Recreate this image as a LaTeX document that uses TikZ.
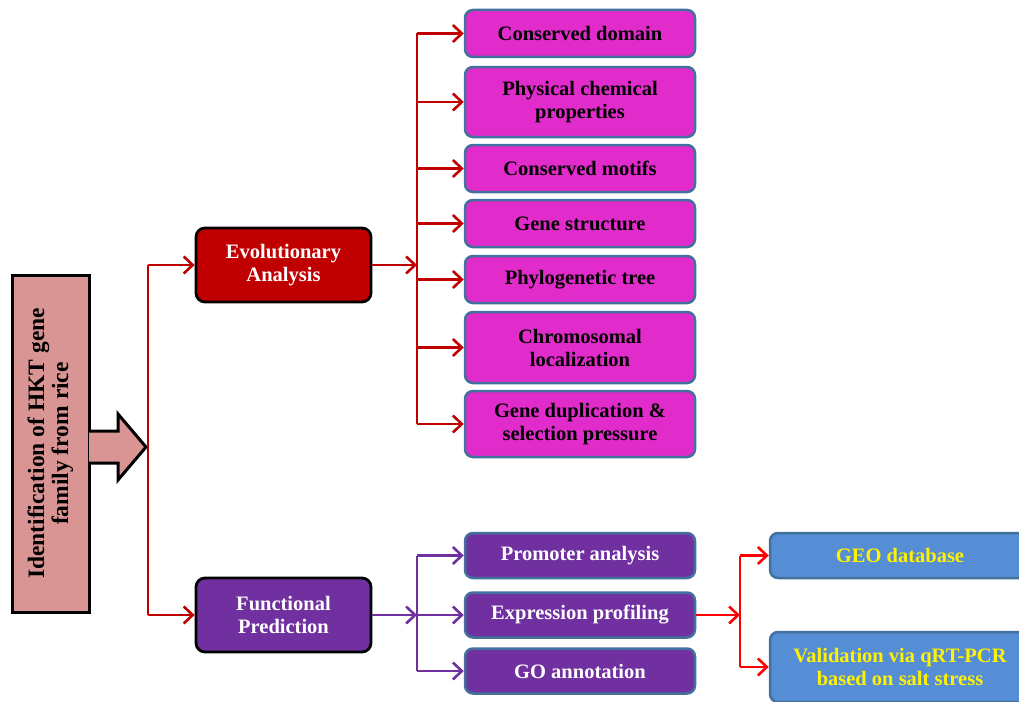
\documentclass[tikz,border=0pt]{standalone}
\usepackage{fontspec}
\setmainfont{Liberation Serif}
\usetikzlibrary{positioning,arrows.meta}
\definecolor{evored}{HTML}{C00000}
\definecolor{funcpurple}{HTML}{7030A0}
\definecolor{taskmagenta}{HTML}{E22BCB}
\definecolor{taskblue}{HTML}{558ED5}
\definecolor{rimblue}{HTML}{41719C}
\definecolor{rootpink}{HTML}{D99594}
\definecolor{brightred}{HTML}{FF0000}

\begin{document}
\begin{tikzpicture}[x=1pt, y=-1pt,
  every node/.style={font=\bfseries\fontsize{20.5}{23}\selectfont, align=center, inner sep=0pt},
  branch/.style={rectangle, rounded corners=9pt, line width=2.8pt, draw=black, minimum width=175pt, minimum height=74pt, text=white},
  task/.style={rectangle, rounded corners=8pt, line width=2.5pt, draw=rimblue, minimum width=230pt},
  link/.style={line width=2.6pt, -{Straight Barb[length=9pt,width=17pt]}},
  trunk/.style={line width=2.6pt}]
  \clip (0,0) rectangle (1019,701);

  % root box and block arrow
  \node[rectangle, draw=black, line width=3pt, fill=rootpink, rotate=90, minimum width=337pt, minimum height=77pt,
        font=\bfseries\fontsize{23.5}{24}\selectfont] (root) at (50.5,443.5) {Identification of HKT gene\\family from rice};
  \draw[line width=3pt, fill=rootpink] (89,431) -- (118,431) -- (118,414) -- (146,447) -- (118,480) -- (118,463) -- (89,463);

  % two branches
  \node[branch, fill=evored] (evo) at (283.5,265) {Evolutionary\\Analysis};
  \node[branch, fill=funcpurple] (func) at (283.5,615) {Functional\\Prediction};
  \coordinate (rootj) at (148,447);
  \draw[trunk, evored] (rootj |- evo.west) -- (rootj |- func.west);
  \draw[link, evored] (rootj |- evo.west) -- (evo.west);
  \draw[link, evored] (rootj |- func.west) -- (func.west);

  % evolutionary analysis tasks
  \node[task, fill=taskmagenta, minimum height=47pt] (cdom) at (580,33.5) {Conserved domain};
  \node[task, fill=taskmagenta, minimum height=70pt] (phys) at (580,102) {Physical chemical\\properties};
  \node[task, fill=taskmagenta, minimum height=47pt] (motif) at (580,168.5) {Conserved motifs};
  \node[task, fill=taskmagenta, minimum height=47pt] (gstr) at (580,223.5) {Gene structure};
  \node[task, fill=taskmagenta, minimum height=47pt] (phylo) at (580,279.5) {Phylogenetic tree};
  \node[task, fill=taskmagenta, minimum height=71pt] (chrom) at (580,347.5) {Chromosomal\\localization};
  \node[task, fill=taskmagenta, minimum height=66pt] (gdup) at (580,424) {Gene duplication \&\\selection pressure};

  \coordinate (evoj) at (417,265);
  \draw[link, evored] (evo.east) -- (evoj);
  \draw[trunk, evored] (evoj |- cdom.west) -- (evoj |- gdup.west);
  \foreach \t in {cdom,phys,motif,gstr,phylo,chrom,gdup}
    \draw[link, evored] (evoj |- \t.west) -- (\t.west);

  % functional prediction tasks
  \node[task, fill=funcpurple, text=white, minimum height=45pt] (prom) at (580,555.5) {Promoter analysis};
  \node[task, fill=funcpurple, text=white, minimum height=45pt] (expr) at (580,615) {Expression profiling};
  \node[task, fill=funcpurple, text=white, minimum height=45pt] (goann) at (580,671) {GO annotation};

  \coordinate (funcj) at (417,615);
  \draw[link, funcpurple] (func.east) -- (funcj);
  \draw[trunk, funcpurple] (funcj |- prom.west) -- (funcj |- goann.west);
  \foreach \t in {prom,expr,goann}
    \draw[link, funcpurple] (funcj |- \t.west) -- (\t.west);

  % expression follow-up
  \node[task, fill=taskblue, text=yellow, minimum width=260pt, minimum height=45pt] (geo) at (900,555.5) {GEO database};
  \node[task, fill=taskblue, text=yellow, minimum width=260pt, minimum height=70pt] (valid) at (900,667) {Validation via qRT-PCR\\based on salt stress};

  \coordinate (exprj) at (740,615);
  \draw[link, brightred] (expr.east) -- (exprj);
  \draw[trunk, brightred] (exprj |- geo.west) -- (exprj |- valid.west);
  \foreach \t in {geo,valid}
    \draw[link, brightred] (exprj |- \t.west) -- (\t.west);
\end{tikzpicture}
\end{document}
